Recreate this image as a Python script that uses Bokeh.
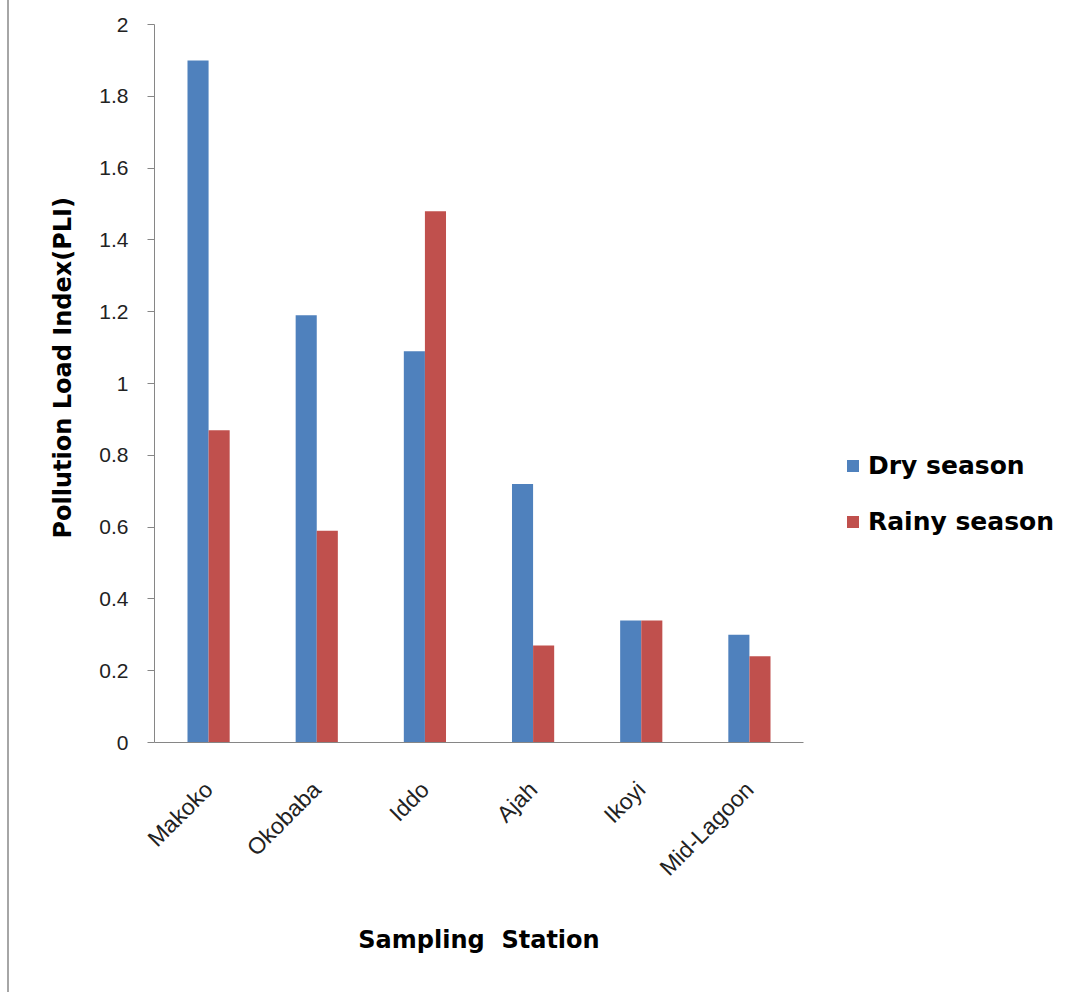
from bokeh.plotting import figure
from bokeh.models import (ColumnDataSource, FactorRange, Range1d, FixedTicker,
                          Legend, LegendItem, Title, Spacer)
from bokeh.transform import dodge
from bokeh.layouts import row
from bokeh.embed import file_html
from bokeh.resources import INLINE

# Pollution Load Index per sampling station
stations = ["Makoko", "Okobaba", "Iddo", "Ajah", "Ikoyi", "Mid-Lagoon"]
dry_season = [1.90, 1.19, 1.09, 0.72, 0.34, 0.30]
rainy_season = [0.87, 0.59, 1.48, 0.27, 0.34, 0.24]

y_ticks = [0, 0.2, 0.4, 0.6, 0.8, 1, 1.2, 1.4, 1.6, 1.8, 2]
y_tick_labels = ["0", "0.2", "0.4", "0.6", "0.8", "1", "1.2", "1.4", "1.6", "1.8", "2"]

DRY_COLOR = "#4F81BD"
RAINY_COLOR = "#C0504D"
AXIS_COLOR = "#868686"
TITLE_FONT = "DejaVu Sans"
TICK_FONT = "Liberation Sans"

source = ColumnDataSource(dict(station=stations, dry=dry_season, rainy=rainy_season))

p = figure(
    x_range=FactorRange(*stations),
    y_range=Range1d(0, 2),
    frame_width=649, frame_height=718,
    min_border_left=145, min_border_right=0,
    min_border_top=24, min_border_bottom=250,
    output_backend="svg", toolbar_location=None,
)
p.outline_line_color = None
p.xgrid.grid_line_color = None
p.ygrid.grid_line_color = None
p.x_range.range_padding = 0

bar_w = 0.195
r_dry = p.vbar(x=dodge("station", -bar_w / 2, range=p.x_range), top="dry", width=bar_w,
               source=source, fill_color=DRY_COLOR, line_color=None)
r_rainy = p.vbar(x=dodge("station", bar_w / 2, range=p.x_range), top="rainy", width=bar_w,
                 source=source, fill_color=RAINY_COLOR, line_color=None)

# y axis
yax = p.yaxis[0]
yax.ticker = FixedTicker(ticks=y_ticks)
yax.major_label_overrides = {t: lab for t, lab in zip(y_ticks, y_tick_labels)}
yax.axis_line_color = AXIS_COLOR
yax.major_tick_line_color = AXIS_COLOR
yax.major_tick_in = 0
yax.major_tick_out = 7
yax.minor_tick_line_color = None
yax.major_label_text_font = TICK_FONT
yax.major_label_text_font_size = "21px"
yax.major_label_text_color = "#222222"
yax.major_label_standoff = 19

# x axis
xax = p.xaxis[0]
xax.axis_line_color = AXIS_COLOR
xax.major_tick_line_color = None
xax.minor_tick_line_color = None
xax.major_label_orientation = 0.785398
xax.major_label_text_font = TICK_FONT
xax.major_label_text_font_size = "23px"
xax.major_label_text_color = "#222222"
xax.major_label_standoff = 37
xax.axis_label = "Sampling\u00a0\u00a0Station"
xax.axis_label_text_font = TITLE_FONT
xax.axis_label_text_font_style = "bold"
xax.axis_label_text_font_size = "24px"
xax.axis_label_text_color = "#000000"
xax.axis_label_standoff = 33

# y axis title
p.add_layout(Title(text="Pollution Load Index(PLI)", align="left", offset=204,
                   text_font=TITLE_FONT, text_font_style="bold",
                   text_font_size="24px", text_color="#000000", standoff=39), "left")

legend = Legend(items=[LegendItem(label="Dry season", renderers=[r_dry]),
                       LegendItem(label="Rainy season", renderers=[r_rainy])],
                location=(42, 206), orientation="vertical",
                glyph_width=15, glyph_height=15, label_standoff=8, spacing=27,
                padding=0, margin=0,
                label_text_font=TITLE_FONT, label_text_font_style="bold",
                label_text_font_size="25px", label_text_color="#000000",
                border_line_color=None, background_fill_alpha=0)
p.add_layout(legend, "right")

edge = Spacer(width=2, height=992, styles={"background-color": "#a6a6a6"})
layout = row(Spacer(width=7, height=992), edge, p)

open("out.html", "w").write(file_html(layout, INLINE))
